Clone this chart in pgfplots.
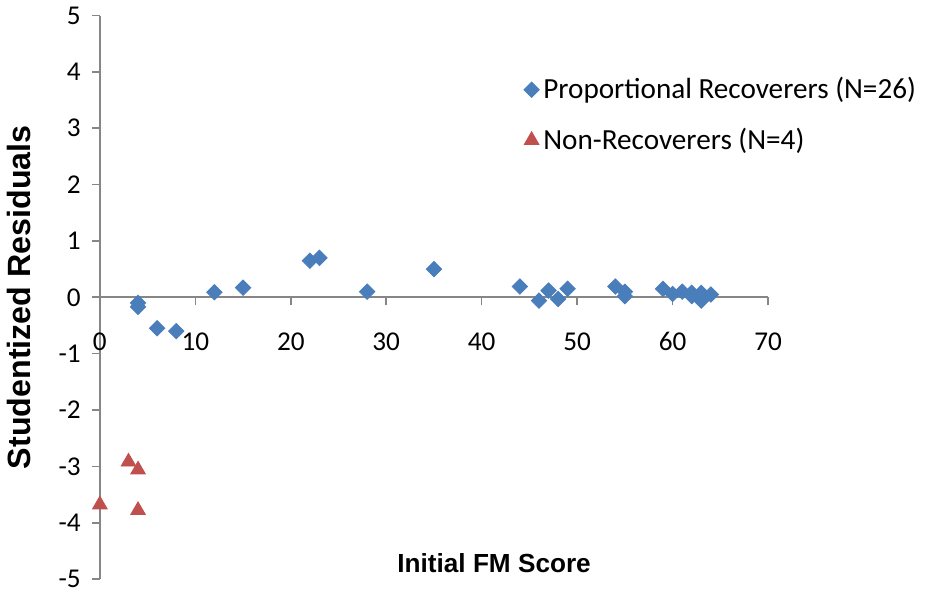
\documentclass[border=0pt]{standalone}
\usepackage{pgfplots}
\pgfplotsset{compat=1.18}
\usepackage{fontspec}
\setmainfont{Carlito}
\newfontfamily\arialb[BoldFont={* Bold}]{Liberation Sans}
\definecolor{pblue}{RGB}{74,126,187}
\definecolor{pred}{RGB}{192,80,77}
\definecolor{axgray}{RGB}{134,134,134}
\begin{document}
\begin{tikzpicture}
\begin{axis}[
  scale only axis,
  width=332pt, height=280pt,
  xmin=0, xmax=70, ymin=-5, ymax=5,
  axis x line=middle, axis y line=left,
  axis line style={axgray, line width=0.8pt, -},
  xtick={0,10,...,70}, ytick={-5,-4,...,5},
  minor tick num=0,
  tick align=outside,
  tick style={axgray, line width=0.8pt},
  major tick length=4pt,
  x tick label style={font=\fontsize{13.5}{15}\selectfont, yshift=-10pt},
  y tick label style={font=\fontsize{13.5}{15}\selectfont, xshift=-2pt},
  hide obscured x ticks=false,
  hide obscured y ticks=false,
  /pgf/number format/assume math mode=true,
  xlabel={\arialb\bfseries Initial FM Score},
  ylabel={\arialb\bfseries Studentized Residuals},
  xlabel style={font=\fontsize{13}{15}\selectfont, at={(axis description cs:0.59,0.012)}, anchor=base},
  ylabel style={font=\fontsize{16}{18}\selectfont, at={(axis description cs:0,0.5)}, anchor=south, yshift=31pt},
  legend style={draw=none, fill=none, at={(axis description cs:0.625,0.905)}, anchor=north west,
    font=\fontsize{14.5}{16}\selectfont, row sep=9pt},
  legend cell align=left,
  clip=false,
]
\addplot[only marks, mark=square*, mark size=2.7pt, mark options={rotate=45, fill=pblue, draw=pblue}] coordinates {
(4,-0.10) (4,-0.17) (6,-0.55) (8,-0.60) (12,0.09) (15,0.17) (22,0.65) (23,0.70)
(28,0.10) (35,0.50) (44,0.19) (46,-0.06) (47,0.12) (48,-0.03) (49,0.15)
(54,0.19) (55,0.10) (55,0.02) (59,0.15) (60,0.06) (61,0.10) (62,0.08) (62,0.02)
(63,0.08) (63,-0.06) (64,0.05)
};
\addlegendentry{Proportional Recoverers (N=26)}
\addplot[only marks, mark=triangle*, mark size=4.2pt, mark options={fill=pred, draw=pred}] coordinates {
(0,-3.68) (3,-2.92) (4,-3.06) (4,-3.78)
};
\addlegendentry{Non-Recoverers (N=4)}
\end{axis}
\end{tikzpicture}
\end{document}
